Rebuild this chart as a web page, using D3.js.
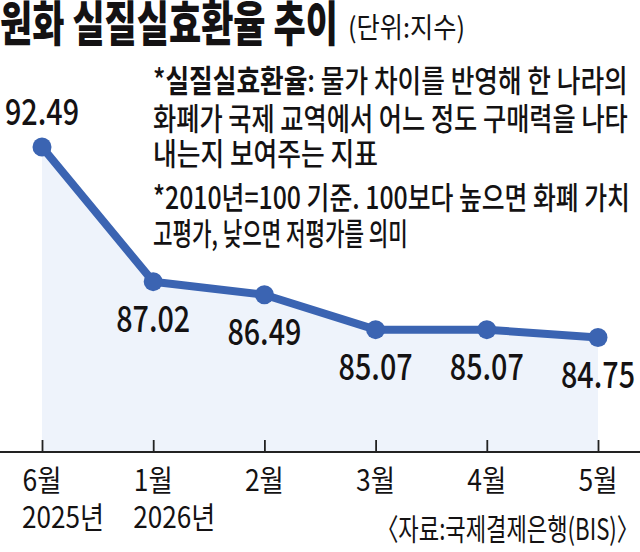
<html>
<head>
<meta charset="utf-8">
<script src="https://d3js.org/d3.v7.min.js"></script>
<style>
  body { margin: 0; background: #fff; }
  text { font-family: "Noto Sans CJK KR", "Noto Sans", sans-serif; fill: #141213; }
</style>
</head>
<body>
<script>
  // data
  let months = ["6월", "1월", "2월", "3월", "4월", "5월"];
  let years = ["2025년", "2026년", "", "", "", ""];
  let values = [92.49, 87.02, 86.49, 85.07, 85.07, 84.75];

  let title = "원화 실질실효환율 추이";
  let unit = "(단위:지수)";
  let notes = [
    ["*", "실질실효환율", ": 물가 차이를 반영해 한 나라의"],
    ["", "", "화폐가 국제 교역에서 어느 정도 구매력을 나타"],
    ["", "", "내는지 보여주는 지표"],
    ["", "", "*2010년=100 기준. 100보다 높으면 화폐 가치"],
    ["", "", "고평가, 낮으면 저평가를 의미"]
  ];
  let source = "〈자료:국제결제은행(BIS)〉";

  let W = 640, H = 552;
  let blue = "#3b64b2";
  let baseY = 452;

  let svg = d3.select("body").append("svg")
      .attr("width", W)
      .attr("height", H);

  // the newspaper font is condensed: squeeze each text to its width
  function squeeze(sel, w) {
    sel.each(function() {
      let nat = this.getComputedTextLength();
      let sx = w / nat;
      let x0 = +this.getAttribute("x"), y0 = +this.getAttribute("y");
      this.setAttribute("x", 0);
      this.setAttribute("y", 0);
      this.setAttribute("transform", "translate(" + x0 + "," + y0 + ") scale(" + sx + ",1)");
    });
  }

  let x = d3.scalePoint()
      .domain(months)
      .range([42, 598]);

  let y = d3.scaleLinear()
      .domain([80.1, 92.49])
      .range([baseY, 147]);

  let pts = months.map((m, i) => ({month: m, year: years[i], value: values[i]}));

  // area under the line
  let area = d3.area()
      .x(d => x(d.month))
      .y0(baseY)
      .y1(d => y(d.value));

  svg.append("path")
    .datum(pts)
    .attr("d", area)
    .attr("fill", "#eef3fb");

  // axis with ticks pointing up
  let axis = d3.axisTop(x)
      .tickSize(12)
      .tickSizeOuter(0)
      .tickFormat("");

  let ax = svg.append("g")
      .attr("transform", "translate(0," + baseY + ")")
      .call(axis);
  ax.select(".domain").remove();
  ax.selectAll(".tick line")
    .attr("stroke", "#222")
    .attr("stroke-width", 1.8);

  svg.append("line")
    .attr("x1", 0)
    .attr("x2", W)
    .attr("y1", baseY)
    .attr("y2", baseY)
    .attr("stroke", "#222")
    .attr("stroke-width", 1.8);

  // line + points
  let line = d3.line()
      .x(d => x(d.month))
      .y(d => y(d.value));

  svg.append("path")
    .datum(pts)
    .attr("d", line)
    .attr("fill", "none")
    .attr("stroke", blue)
    .attr("stroke-width", 8)
    .attr("stroke-linejoin", "round");

  svg.selectAll("circle.pt")
    .data(pts)
    .enter().append("circle")
    .attr("class", "pt")
    .attr("cx", d => x(d.month))
    .attr("cy", d => y(d.value))
    .attr("r", 9.5)
    .attr("fill", blue);

  // value labels
  svg.selectAll("text.val")
    .data(pts)
    .enter().append("text")
    .attr("class", "val")
    .attr("x", d => x(d.month))
    .attr("y", (d, i) => i == 0 ? y(d.value) - 22 : y(d.value) + 50)
    .attr("text-anchor", "middle")
    .attr("font-size", 36)
    .attr("font-weight", 500)
    .text(d => d.value.toFixed(2))
    .call(squeeze, 74);

  // month and year labels
  svg.selectAll("text.month")
    .data(pts)
    .enter().append("text")
    .attr("class", "month")
    .attr("x", d => x(d.month))
    .attr("y", 491)
    .attr("text-anchor", "middle")
    .attr("font-size", 30)
    .text(d => d.month)
    .call(squeeze, 39);

  svg.selectAll("text.year")
    .data(pts.filter(d => d.year != ""))
    .enter().append("text")
    .attr("class", "year")
    .attr("x", d => x(d.month) - 20)
    .attr("y", 528)
    .attr("font-size", 30)
    .text(d => d.year)
    .call(squeeze, 82);

  // title
  svg.append("text")
    .attr("x", 0)
    .attr("y", 41)
    .attr("font-size", 48)
    .attr("font-weight", 900)
    .text(title)
    .call(squeeze, 338);

  svg.append("text")
    .attr("x", 348)
    .attr("y", 38)
    .attr("font-size", 28)
    .text(unit)
    .call(squeeze, 117);

  // notes
  let noteY = [92, 130, 165, 209, 245];
  let noteW = [475, 475, 225, 477, 255];
  notes.forEach((n, i) => {
    let t = svg.append("text")
      .attr("x", 153)
      .attr("y", noteY[i])
      .attr("font-size", 31)
      .attr("font-weight", 500);
    if (n[0]) t.append("tspan").text(n[0]);
    if (n[1]) t.append("tspan").attr("font-weight", 700).text(n[1]);
    t.append("tspan").text(n[2]);
    t.call(squeeze, noteW[i]);
  });

  // source
  svg.append("text")
    .attr("x", 639)
    .attr("y", 540)
    .attr("text-anchor", "end")
    .attr("font-size", 30)
    .text(source)
    .call(squeeze, 263);
</script>
</body>
</html>
